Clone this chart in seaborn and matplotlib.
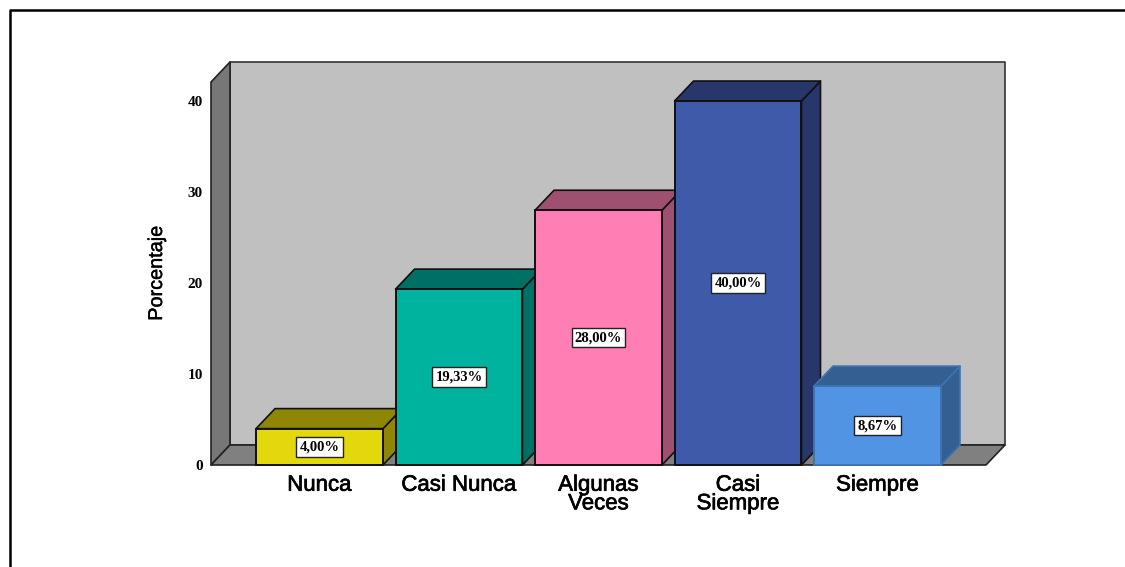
import matplotlib
matplotlib.use('Agg')
import pandas as pd
import matplotlib.pyplot as plt
import matplotlib.patheffects as pe
from matplotlib.patches import Polygon
from matplotlib.lines import Line2D
import seaborn as sns

# Data
categories = ['Nunca', 'Casi Nunca', 'Algunas\nVeces', 'Casi\nSiempre', 'Siempre']
values = [4.00, 19.33, 28.00, 40.00, 8.67]
y_ticks = [0, 10, 20, 30, 40]

front_colors = ['#e3d80c', '#00b39f', '#ff7fb4', '#3e5aa8', '#5294e4']
dark_colors = ['#8f8606', '#007065', '#9d5070', '#27376b', '#345f93']
edge_colors = ['#111111', '#111111', '#111111', '#111111', '#3f73b0']

W, H = 1125, 567
sns.set_theme(style='white')
plt.rcParams['font.family'] = ['Liberation Sans', 'DejaVu Sans']

fig = plt.figure(figsize=(W / 100, H / 100), dpi=100, facecolor='white')
# axes box runs from the front-left floor corner to the back-right wall corner
ax = fig.add_axes([211 / W, 1 - 465 / H, (1005 - 211) / W, (465 - 62) / H])

tab = pd.DataFrame({'category': categories, 'value': values})
sns.barplot(data=tab, x='category', y='value', hue='category', palette=front_colors,
            order=categories, hue_order=categories, dodge=False, width=0.91,
            saturation=1, legend=False, ax=ax)
bars = [c[0] for c in ax.containers]

ax.set_xlim(-0.778, 4.914)
ax.set_ylim(0, 44.29)
ax.set_facecolor('none')
sns.despine(ax=ax, left=True, bottom=True, top=True, right=True)

# depth of the fake 3D, in data units
xmin, xmax = ax.get_xlim()
ymin, ymax = ax.get_ylim()
dx = 19 / 139.5
dy = 20 / 9.1


def face(pts, color, z, edge='#111111', lw=1.2):
    ax.add_patch(Polygon(pts, closed=True, facecolor=color, edgecolor=edge,
                         linewidth=lw, zorder=z, clip_on=False, joinstyle='round'))


# walls and floor
face([(xmin + dx, ymin + dy), (xmax, ymin + dy), (xmax, ymax), (xmin + dx, ymax)], '#c0c0c0', 0.2, edge='#333333')
face([(xmin, ymin), (xmin + dx, ymin + dy), (xmin + dx, ymax), (xmin, ymax - dy)], '#777777', 0.3, edge='#222222')
face([(xmin, ymin), (xmax - dx, ymin), (xmax, ymin + dy), (xmin + dx, ymin + dy)], '#808080', 0.3, edge='#222222')

# bars, left to right so each front covers the neighbour's side face
for i, bar in enumerate(bars):
    x0, x1 = bar.get_x(), bar.get_x() + bar.get_width()
    top = bar.get_height()
    z = 2 + i
    face([(x1, 0), (x1 + dx, dy), (x1 + dx, top + dy), (x1, top)], dark_colors[i], z, edge=edge_colors[i])
    face([(x0, top), (x0 + dx, top + dy), (x1 + dx, top + dy), (x1, top)], dark_colors[i], z, edge=edge_colors[i])
    bar.set_edgecolor(edge_colors[i])
    bar.set_linewidth(1.4)
    bar.set_zorder(z + 0.5)
    bar.set_clip_on(False)

for cont, v in zip(ax.containers, values):
    ax.bar_label(cont, labels=[f'{v:.2f}%'.replace('.', ',')], label_type='center', padding=0,
                 family='Liberation Serif', fontweight='bold', fontsize=10.5, color='black', zorder=20,
                 bbox=dict(boxstyle='square,pad=0.22', facecolor='white', edgecolor='#222222', linewidth=1))

ax.set_yticks(y_ticks)
ax.set_yticklabels([str(t) for t in y_ticks], family='Liberation Serif', fontweight='bold', fontsize=11, color='black')
ax.tick_params(axis='y', length=0, pad=6)
ax.tick_params(axis='x', length=0, pad=7)
for lab in ax.get_xticklabels():
    lab.set_fontsize(16)
    lab.set_color('black')
    lab.set_linespacing(0.85)
    lab.set_verticalalignment('top')
    lab.set_path_effects([pe.withStroke(linewidth=0.5, foreground='black')])

ax.set_xlabel('')
ax.set_ylabel('Porcentaje', fontsize=14.3, color='black',
              path_effects=[pe.withStroke(linewidth=0.3, foreground='black')])
ax.yaxis.set_label_coords((166 - 211) / (1005 - 211), (465 - 273) / (465 - 62))

# outer frame, cut off at the bottom and right of the picture
fig.add_artist(Line2D([10 / W, 10 / W, 1], [0, 1 - 10 / H, 1 - 10 / H], color='black', linewidth=1.8))

plt.savefig('out.png', dpi=100)
